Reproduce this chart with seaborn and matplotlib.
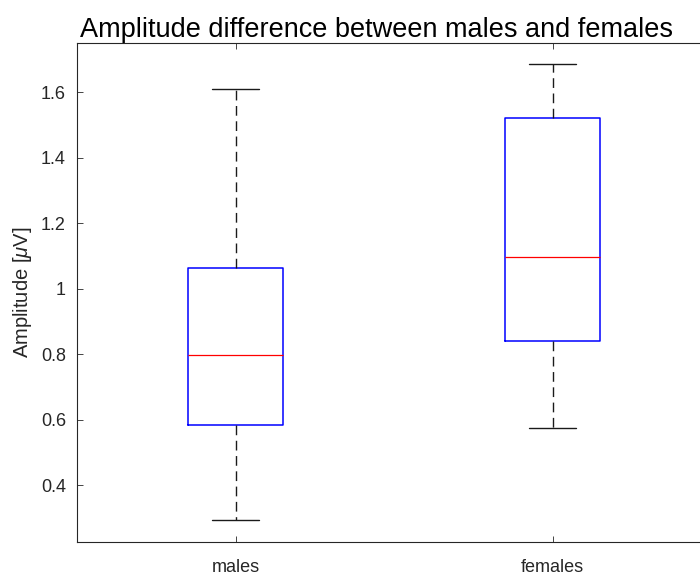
import matplotlib
matplotlib.use("Agg")
import matplotlib.pyplot as plt
import seaborn as sns
import pandas as pd

# Five-number summaries (lower whisker, Q1, median, Q3, upper whisker) in µV
groups = ["males", "females"]
males_vals = [0.293, 0.582, 0.797, 1.064, 1.611]
females_vals = [0.575, 0.840, 1.095, 1.520, 1.686]
y_ticks = [0.4, 0.6, 0.8, 1.0, 1.2, 1.4, 1.6]
y_tick_labels = ["0.4", "0.6", "0.8", "1", "1.2", "1.4", "1.6"]

df = pd.DataFrame({
    "group": [groups[0]] * len(males_vals) + [groups[1]] * len(females_vals),
    "amp": males_vals + females_vals,
})

sns.set_theme(style="white")
plt.rcParams["font.family"] = ["Liberation Sans", "DejaVu Sans"]
plt.rcParams["mathtext.fontset"] = "custom"
plt.rcParams["mathtext.rm"] = "Liberation Sans"
plt.rcParams["mathtext.it"] = "Liberation Sans:italic"

ink = "#262626"
fig = plt.figure(figsize=(7.0, 5.75), dpi=100)
ax = fig.add_axes([77 / 700, 1 - 542 / 575, (711 - 77) / 700, (542 - 43) / 575])

sns.boxplot(
    data=df, x="group", y="amp", order=groups, ax=ax,
    width=0.30, whis=1.5, fill=False, showfliers=False,
    boxprops=dict(color="#0000ff", linewidth=1.1),
    medianprops=dict(color="#ff0000", linewidth=0.9),
    whiskerprops=dict(color="#1a1a1a", linewidth=1.0, linestyle=(0, (7, 4))),
    capprops=dict(color="#1a1a1a", linewidth=1.0),
)

ax.set_xlim(-0.5, 1.5)
ax.set_ylim(0.226, 1.750)
ax.set_yticks(y_ticks)
ax.set_yticklabels(y_tick_labels)
ax.set_xlabel("")
ax.set_ylabel(r"Amplitude [$\mu$V]", fontsize=14.5, color=ink, labelpad=5)

for name, s in ax.spines.items():
    s.set_visible(name != "right")
    s.set_color(ink)
    s.set_linewidth(0.8)

ax.tick_params(axis="both", which="both", direction="in", length=4, width=0.6,
               color=ink, labelcolor=ink, labelsize=13,
               top=True, right=True, bottom=True, left=True)
ax.tick_params(axis="x", pad=12)
ax.tick_params(axis="y", pad=8)

fig.text(377 / 700, 1 - 30 / 575, "Amplitude difference between males and females",
         ha="center", va="center", fontsize=19.5, color="black")

fig.savefig("out.png", dpi=100, facecolor="white")
